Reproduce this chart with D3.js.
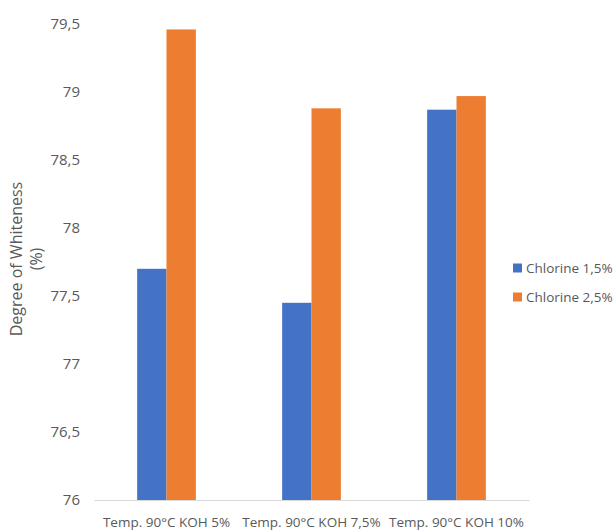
<!DOCTYPE html>
<html>
<head>
<meta charset="utf-8">
<script src="https://cdn.jsdelivr.net/npm/d3@7"></script>
<style>
  html, body { margin: 0; padding: 0; background: #fff; }
  svg { display: block; font-family: "Open Sans", "Noto Sans", sans-serif; }
</style>
</head>
<body>
<svg id="chart" width="616" height="530"></svg>
<script>
const categories = ["Temp. 90°C KOH 5%", "Temp. 90°C KOH 7,5%", "Temp. 90°C KOH 10%"];
const seriesNames = ["Chlorine 1,5%", "Chlorine 2,5%"];
const chlorine15 = [77.70, 77.45, 78.87];
const chlorine25 = [79.46, 78.88, 78.97];
const yTicks = [76, 76.5, 77, 77.5, 78, 78.5, 79, 79.5];
const colors = ["#4472C4", "#ED7D31"];

const svg = d3.select("#chart");
const mLeft = 94, mRight = 529, mTop = 24, mBottom = 500;

const x = d3.scaleBand().domain(categories).range([mLeft, mRight]).padding(0);
const xs = d3.scaleBand().domain(seriesNames).range([0, x.bandwidth()]).paddingInner(0).paddingOuter(1.47);
const y = d3.scaleLinear().domain([76, 79.5]).range([mBottom, mTop]);

const fmt = d => String(d).replace(".", ",");

// y axis (labels only)
const yAxis = d3.axisLeft(y).tickValues(yTicks).tickFormat(fmt).tickSize(0).tickPadding(0);
const gy = svg.append("g").attr("transform", "translate(80,0)").call(yAxis);
gy.select(".domain").remove();
gy.selectAll("text").attr("fill", "#595959").style("font-size", "15px").style("font-family", "\"Open Sans\", sans-serif");

// bars
const data = categories.map((c, i) => ({ c, vals: [chlorine15[i], chlorine25[i]] }));
const groups = svg.append("g").selectAll("g").data(data).join("g")
  .attr("transform", d => `translate(${x(d.c)},0)`);
groups.selectAll("rect").data(d => d.vals.map((v, j) => ({ v, s: seriesNames[j], j })))
  .join("rect")
  .attr("x", d => xs(d.s))
  .attr("width", xs.bandwidth())
  .attr("y", d => y(d.v))
  .attr("height", d => y(76) - y(d.v))
  .attr("fill", d => colors[d.j]);

// x axis
const xAxis = d3.axisBottom(x).tickSize(0).tickPadding(17);
const gx = svg.append("g").attr("transform", `translate(0,${mBottom})`).call(xAxis);
gx.select(".domain").attr("stroke", "#D9D9D9").attr("stroke-width", 1);
gx.selectAll("text").attr("fill", "#595959").style("font-size", "13.5px").style("font-family", "\"Open Sans\", sans-serif");

// y title
const yt = svg.append("text").attr("transform", "translate(22,259) rotate(-90)")
  .attr("text-anchor", "middle").attr("fill", "#595959")
  .style("font-size", "16px");
yt.append("tspan").attr("x", 0).attr("dy", 0).text("Degree of Whiteness");
yt.append("tspan").attr("x", 0).attr("dy", 20).text("(%)");

// legend
const leg = svg.append("g").selectAll("g").data(seriesNames).join("g")
  .attr("transform", (d, i) => `translate(513,${268 + i * 29})`);
leg.append("rect").attr("x", 0).attr("y", -4.5).attr("width", 9).attr("height", 9)
  .attr("fill", (d, i) => colors[i]);
leg.append("text").attr("x", 13).attr("dy", "0.35em").attr("fill", "#595959")
  .style("font-size", "13.5px").text(d => d);
</script>
</body>
</html>
